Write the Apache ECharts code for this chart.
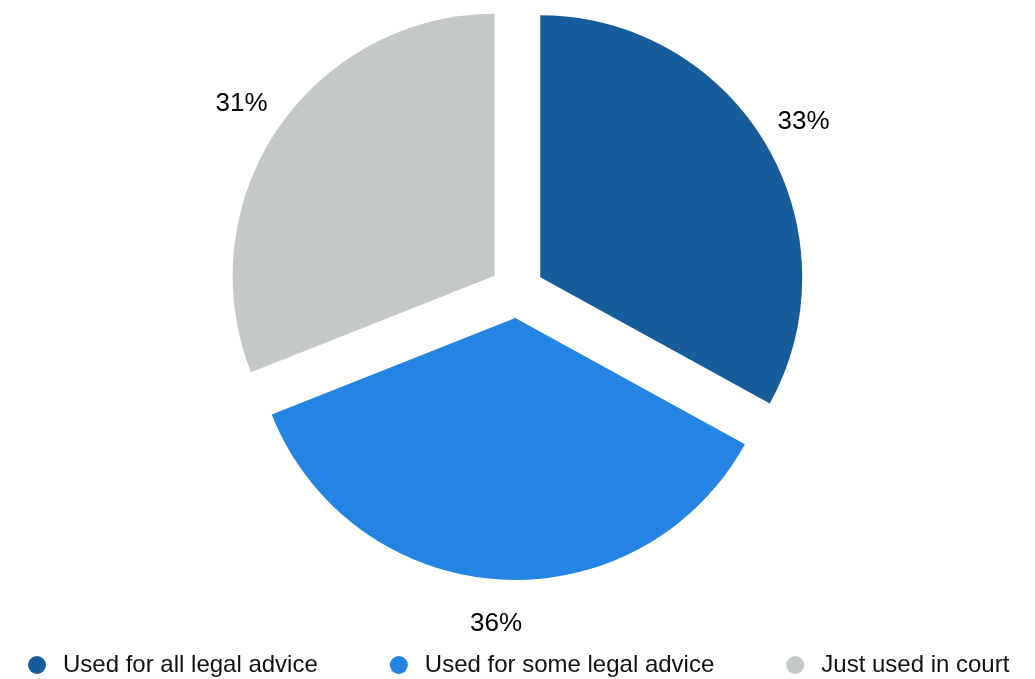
<!DOCTYPE html>
<html>
<head>
<meta charset="utf-8">
<script src="https://cdn.jsdelivr.net/npm/echarts@6/dist/echarts.min.js"></script>
<style>html,body{margin:0;padding:0;background:#fff}#c{width:1035px;height:679px}</style>
</head>
<body>
<div id="c"></div>
<script>
const categories = ['Used for all legal advice', 'Used for some legal advice', 'Just used in court'];
const values = [33, 36, 31];
const colors = ['#185D9B', '#2384E3', '#C5C8C9'];

const FONT = '"Liberation Sans", Arial, sans-serif';
const chart = echarts.init(document.getElementById('c'), null, {renderer: 'canvas'});

const pieData = categories.map((n, i) => ({name: n, value: values[i], selected: true, itemStyle: {color: colors[i]}}));
const labelData = categories.map((n, i) => ({name: n, value: values[i]}));

chart.setOption({
  animation: false,
  legend: {
    data: categories,
    icon: 'circle',
    left: 23,
    top: 648,
    itemWidth: 18,
    itemHeight: 19,
    itemGap: 72,
    selectedMode: false,
    textStyle: {fontFamily: FONT, fontSize: 24, color: '#111', padding: [0, 0, 0, 12]}
  },
  series: [
    {
      type: 'pie',
      center: [517, 291],
      radius: [0, 262],
      startAngle: 90,
      clockwise: true,
      selectedMode: 'multiple',
      selectedOffset: 27,
      silent: true,
      label: {show: false},
      labelLine: {show: false},
      select: {itemStyle: {borderWidth: 0}},
      emphasis: {disabled: true},
      data: pieData
    },
    {
      type: 'pie',
      center: [517, 291],
      radius: [325, 335],
      startAngle: 90,
      clockwise: true,
      silent: true,
      emphasis: {disabled: true},
      itemStyle: {color: 'rgba(0,0,0,0)'},
      label: {
        show: true,
        position: 'inside',
        rotate: 0,
        formatter: p => p.value + '%',
        fontFamily: FONT,
        fontSize: 26,
        color: '#000'
      },
      labelLine: {show: false},
      data: labelData
    }
  ]
});
</script>
</body>
</html>
